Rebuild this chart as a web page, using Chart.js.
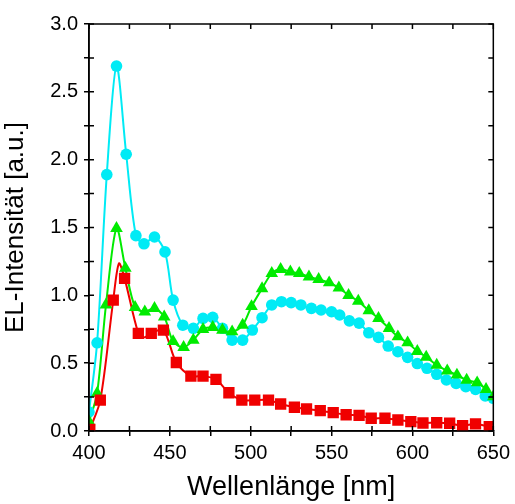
<!DOCTYPE html>
<html>
<head>
<meta charset="utf-8">
<script src="https://cdn.jsdelivr.net/npm/chart.js@4.4.1/dist/chart.umd.min.js"></script>
<style>
  body { margin: 0; background: #fff; }
</style>
</head>
<body>
<canvas id="myChart" width="515" height="504"></canvas>
<script>
// wavelength [nm] and intensity [a.u.]
var cyanX = [400, 405, 411, 417, 423, 429, 434, 440.5, 447, 452, 458, 464.5, 470.5, 476.5, 482.5, 488.5, 495, 501, 507, 513, 519, 525, 531, 537.5, 543.5, 550, 555, 561, 567, 573, 579, 585, 591, 597, 603, 609, 615, 621, 627, 633, 639, 645, 650];
var cyanY = [0.14, 0.65, 1.89, 2.69, 2.04, 1.44, 1.38, 1.43, 1.32, 0.965, 0.78, 0.757, 0.83, 0.838, 0.757, 0.67, 0.67, 0.744, 0.835, 0.929, 0.953, 0.946, 0.929, 0.904, 0.892, 0.879, 0.855, 0.812, 0.795, 0.724, 0.69, 0.626, 0.584, 0.543, 0.497, 0.462, 0.418, 0.376, 0.351, 0.326, 0.307, 0.258, 0.241];

var greenX = [400, 405, 410.5, 417, 422.5, 428.5, 434.5, 440.5, 446.5, 452, 458.5, 464.5, 470.5, 476.5, 482.5, 488.5, 495, 500.5, 507, 513, 518.5, 524.5, 530, 536, 542, 548.5, 554.5, 560.5, 566.5, 573, 579, 585.5, 591, 597, 603, 608.5, 615, 621.5, 627.5, 633.5, 640, 645.5, 650];
var greenY = [0.069, 0.278, 0.93, 1.494, 1.2, 0.912, 0.879, 0.904, 0.842, 0.66, 0.617, 0.67, 0.749, 0.764, 0.744, 0.732, 0.781, 0.918, 1.05, 1.162, 1.192, 1.174, 1.162, 1.137, 1.118, 1.093, 1.055, 1.0, 0.957, 0.887, 0.83, 0.757, 0.695, 0.651, 0.588, 0.545, 0.486, 0.444, 0.413, 0.376, 0.356, 0.307, 0.253];

var redX = [400.5, 407, 415, 422, 430.5, 438.5, 446, 454, 463, 470.5, 478.5, 486.5, 494.5, 502.5, 511, 518.5, 527, 534.5, 543, 551, 559, 567, 574.5, 583, 591, 599, 606.5, 615, 623, 631, 639, 647.5];
var redY = [0.012, 0.228, 0.965, 1.125, 0.72, 0.72, 0.744, 0.505, 0.405, 0.405, 0.381, 0.282, 0.228, 0.228, 0.228, 0.199, 0.175, 0.162, 0.15, 0.135, 0.12, 0.115, 0.094, 0.094, 0.081, 0.069, 0.059, 0.061, 0.057, 0.039, 0.052, 0.032];
// top of the red line, which has no marker of its own
var redLineX = [418.5, 434];
var redLineY = [1.235, 0.69];

var xTicks = [400, 450, 500, 550, 600, 650];
var yTicks = ["0.0", "0.5", "1.0", "1.5", "2.0", "2.5", "3.0"];

var cyan = "rgb(0,235,245)";
var green = "rgb(0,235,0)";
var red = "rgb(240,0,0)";

function points(xs, ys) {
  return xs.map(function(x, i) { return { x: x, y: ys[i] }; });
}

function withExtra(xs, ys, ex, ey) {
  return points(xs, ys).concat(points(ex, ey)).sort(function(a, b) { return a.x - b.x; });
}

function lineSet(data, color) {
  return {
    data: data, showLine: true, borderColor: color, borderWidth: 2,
    pointRadius: 0, tension: 0.3, fill: false
  };
}

function markSet(data, color, style, r) {
  return {
    data: data, showLine: false, backgroundColor: color, borderColor: color,
    borderWidth: 0, pointStyle: style, pointRadius: r
  };
}

// inward ticks on all four sides plus the frame
var frame = {
  id: "frame",
  afterDatasetsDraw: function(chart) {
    var ctx = chart.ctx, a = chart.chartArea;
    var xs = chart.scales.x, ys = chart.scales.y;
    ctx.save();
    ctx.strokeStyle = "#000";
    ctx.lineWidth = 1.5;
    ctx.beginPath();
    xs.ticks.forEach(function(t) {
      var px = xs.getPixelForValue(t.value);
      ctx.moveTo(px, a.bottom); ctx.lineTo(px, a.bottom - 5);
      ctx.moveTo(px, a.top); ctx.lineTo(px, a.top + 5);
    });
    ys.ticks.forEach(function(t) {
      var py = ys.getPixelForValue(t.value);
      ctx.moveTo(a.left, py); ctx.lineTo(a.left + 5, py);
      ctx.moveTo(a.right, py); ctx.lineTo(a.right - 5, py);
    });
    ctx.stroke();
    ctx.strokeRect(a.left, a.top, a.right - a.left, a.bottom - a.top);
    ctx.restore();
  }
};

var font = "'Liberation Sans', Arial, sans-serif";

document.addEventListener("DOMContentLoaded", function() {
  var ctx = document.getElementById("myChart");
  new Chart(ctx, {
    type: "scatter",
    data: {
      datasets: [
        markSet(points(redX, redY), red, "rect", 8),
        markSet(points(greenX, greenY), green, "triangle", 7.3),
        markSet(points(cyanX, cyanY), cyan, "circle", 5.8),
        lineSet(withExtra(redX, redY, redLineX, redLineY), red),
        lineSet(points(greenX, greenY), green),
        lineSet(points(cyanX, cyanY), cyan)
      ]
    },
    options: {
      responsive: false,
      animation: false,
      layout: { padding: { left: 0, top: 24, right: 19, bottom: 0 } },
      plugins: { legend: { display: false }, tooltip: { enabled: false } },
      scales: {
        x: {
          type: "linear", min: 400, max: 650,
          afterFit: function(s) { s.height = 73; },
          border: { display: true, color: "#000", width: 1.5 },
          grid: { drawOnChartArea: false, drawTicks: true, tickLength: 5, color: "#000", lineWidth: 1.5 },
          ticks: {
            stepSize: 25, color: "#000", padding: 5, maxRotation: 0, autoSkip: false,
            font: { family: font, size: 20 },
            callback: function(v) { return xTicks.indexOf(v) >= 0 ? String(v) : ""; }
          },
          title: {
            display: true, text: "Wellenlänge [nm]", color: "#000",
            font: { family: font, size: 27 }, padding: { top: 6, bottom: 0 }
          }
        },
        y: {
          type: "linear", min: 0, max: 3,
          afterFit: function(s) { s.width = 89; },
          border: { display: true, color: "#000", width: 1.5 },
          grid: { drawOnChartArea: false, drawTicks: true, tickLength: 5, color: "#000", lineWidth: 1.5 },
          ticks: {
            stepSize: 0.25, color: "#000", padding: 6, autoSkip: false,
            font: { family: font, size: 20 },
            callback: function(v) {
              var s = v.toFixed(1);
              return (Math.round(v * 100) % 50 === 0 && yTicks.indexOf(s) >= 0) ? s : "";
            }
          },
          title: {
            display: true, text: "EL-Intensität [a.u.]", color: "#000",
            font: { family: font, size: 26 }, padding: { top: 0, bottom: 4 }
          }
        }
      }
    },
    plugins: [frame]
  });
});
</script>
</body>
</html>
